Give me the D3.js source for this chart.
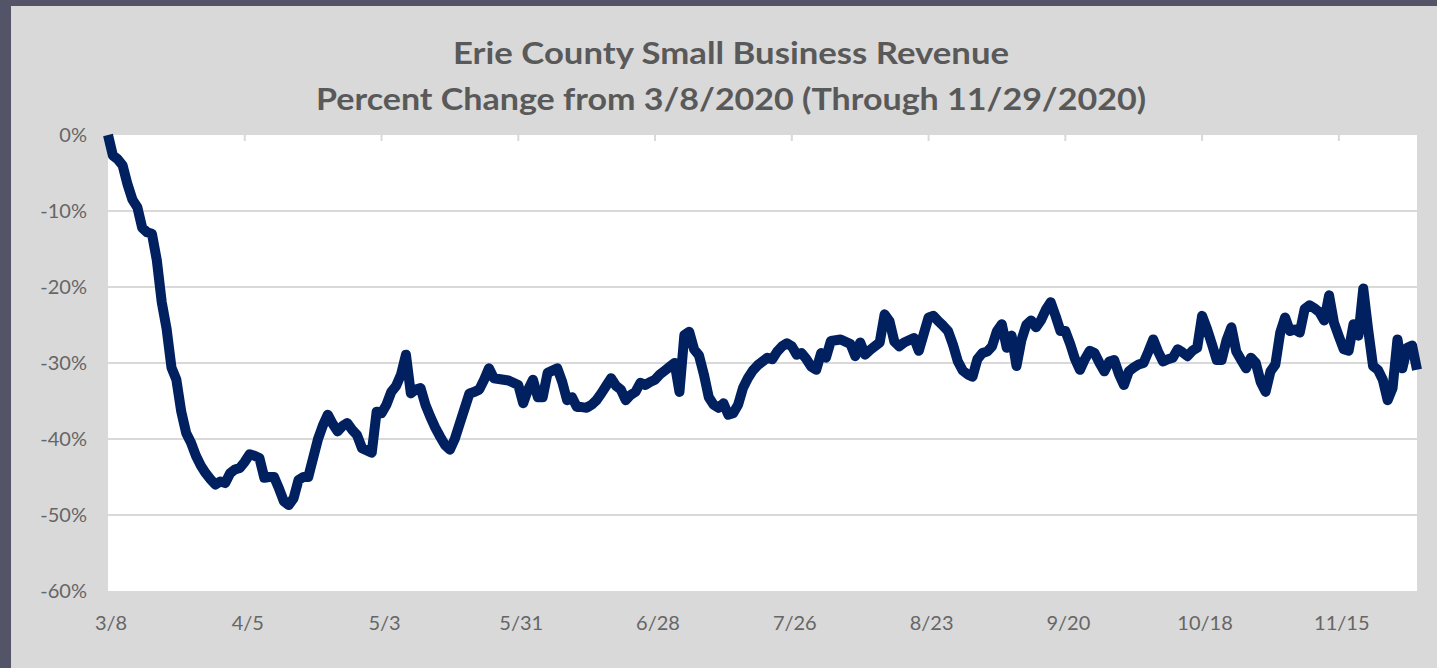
<!DOCTYPE html>
<html>
<head>
<meta charset="utf-8">
<script src="https://cdn.jsdelivr.net/npm/d3@7"></script>
<style>
  html, body { margin: 0; padding: 0; background: #545469; }
  svg { display: block; }
</style>
</head>
<body>
<div id="chart"></div>
<script>
// chart text
const titleLines = [
  "Erie County Small Business Revenue",
  "Percent Change from 3/8/2020 (Through 11/29/2020)",
];

// first day of the series, one value per day after it
const startDate = "2020-03-08";
const axisEndDate = "2020-12-01";

// y axis ticks (percent)
const yTicks = [0, -10, -20, -30, -40, -50, -60];

// percent change from 3/8/2020, daily
const revenueChange = [
  0, -2.7, -3.2, -4.0, -6.5, -8.5, -9.5, -12.2, -12.8, -13.0,
  -16.5, -22, -25.5, -30.6, -32.2, -36.4, -39.2, -40.5, -42.2, -43.5,
  -44.5, -45.3, -46, -45.6, -45.8, -44.5, -44, -43.8, -43, -42,
  -42.2, -42.5, -45.1, -45, -45, -46.5, -48.2, -48.7, -47.8, -45.4,
  -45, -45, -42.5, -40, -38.2, -36.8, -38, -39, -38.3, -37.9,
  -38.8, -39.5, -41.2, -41.5, -41.8, -36.4, -36.6, -35.5, -33.8, -33,
  -31.5, -28.9, -34, -33.5, -33.3, -35.5, -37.1, -38.5, -39.7, -40.8,
  -41.4, -40, -38, -36, -34, -33.8, -33.5, -32.2, -30.7, -32,
  -32.1, -32.2, -32.3, -32.6, -32.9, -35.3, -33.5, -32.2, -34.5, -34.5,
  -31.3, -31, -30.7, -32.5, -34.9, -34.5, -35.8, -35.8, -35.9, -35.5,
  -34.9, -34, -33, -32, -33, -33.5, -34.9, -34.2, -33.8, -32.6,
  -32.9, -32.5, -32.2, -31.5, -31, -30.5, -30, -33.8, -26.3, -25.9,
  -28.2, -29, -31.5, -34.5, -35.5, -35.9, -35.3, -36.8, -36.6, -35.5,
  -33.3, -32, -31, -30.3, -29.8, -29.3, -29.5, -28.5, -27.8, -27.4,
  -27.8, -28.9, -28.7, -29.5, -30.5, -30.9, -28.7, -29.3, -27.1, -27,
  -26.9, -27.2, -27.5, -29.1, -27.3, -28.9, -28.3, -27.8, -27.3, -23.6,
  -24.5, -27.2, -27.8, -27.3, -27, -26.7, -28.4, -26.2, -24, -23.8,
  -24.5, -25.1, -25.8, -27.6, -29.8, -31, -31.5, -31.8, -29.5, -28.7,
  -28.5, -27.8, -25.8, -24.9, -28, -26.4, -30.4, -27, -25, -24.4,
  -25.3, -24.4, -23, -22, -23.8, -25.8, -25.8, -27.5, -29.5, -30.9,
  -29.5, -28.4, -28.7, -30, -31.1, -29.8, -29.6, -31.5, -32.9, -31.1,
  -30.6, -30.2, -30, -28.5, -26.9, -28.5, -29.8, -29.5, -29.3, -28.2,
  -28.6, -29.1, -28.4, -28, -23.8, -25.5, -27.5, -29.6, -29.6, -27,
  -25.3, -28.5, -29.6, -30.7, -29.3, -30, -32.5, -33.8, -31.1, -30.2,
  -26, -24, -25.8, -25.6, -26, -22.9, -22.4, -22.8, -23.3, -24.4,
  -21.1, -24.7, -26.5, -28.2, -28.4, -24.9, -26.4, -20.2, -25.6, -30.4,
  -30.9, -32.2, -34.9, -33.3, -26.9, -30.7, -28, -27.7, -30.9,
];

const W = 1437, H = 668;
const panel = { x: 11, y: 6 };
const plot = { left: 108, top: 135, right: 1417, bottom: 591 };

const parseDate = d3.timeParse("%Y-%m-%d");
const start = parseDate(startDate);
const data = revenueChange.map((v, i) => ({ date: d3.timeDay.offset(start, i), value: v }));

const svg = d3
  .select("#chart")
  .append("svg")
  .attr("width", W)
  .attr("height", H);

// grey chart panel
svg
  .append("rect")
  .attr("x", panel.x)
  .attr("y", panel.y)
  .attr("width", W - panel.x)
  .attr("height", H - panel.y)
  .attr("fill", "#d9d9d9");

// white plot area
svg
  .append("rect")
  .attr("x", plot.left)
  .attr("y", plot.top)
  .attr("width", plot.right - plot.left)
  .attr("height", plot.bottom - plot.top)
  .attr("fill", "#ffffff");

const x = d3
  .scaleTime()
  .domain([start, parseDate(axisEndDate)])
  .range([plot.left, plot.right]);

const y = d3.scaleLinear().domain([-60, 0]).range([plot.bottom, plot.top]);

// 28-day steps from the start date
const xTicks = d3.range(0, 10).map((k) => d3.timeDay.offset(start, k * 28));

// gridlines
svg
  .append("g")
  .selectAll("line")
  .data(yTicks.filter((t) => t > -60 && t < 0))
  .join("line")
  .attr("x1", plot.left)
  .attr("x2", plot.right)
  .attr("y1", (d) => y(d))
  .attr("y2", (d) => y(d))
  .attr("stroke", "#d9d9d9")
  .attr("stroke-width", 2);

// small tick marks hanging from the top axis
svg
  .append("g")
  .selectAll("line")
  .data(xTicks.slice(1))
  .join("line")
  .attr("x1", (d) => x(d))
  .attr("x2", (d) => x(d))
  .attr("y1", plot.top)
  .attr("y2", plot.top + 6)
  .attr("stroke", "#d9d9d9")
  .attr("stroke-width", 2);

const labelFont = "Lato, 'Open Sans', sans-serif";

// y axis labels
svg
  .append("g")
  .selectAll("text")
  .data(yTicks)
  .join("text")
  .attr("x", 87)
  .attr("y", (d) => y(d))
  .attr("dy", "0.35em")
  .attr("text-anchor", "end")
  .attr("font-family", labelFont)
  .attr("font-size", 20)
  .attr("fill", "#666666")
  .text((d) => d + "%");

// x axis labels
const fmt = d3.timeFormat("%-m/%-d");
svg
  .append("g")
  .selectAll("text")
  .data(xTicks)
  .join("text")
  .attr("x", (d) => x(d) + 3)
  .attr("y", 623)
  .attr("dy", "0.35em")
  .attr("text-anchor", "middle")
  .attr("font-family", labelFont)
  .attr("font-size", 20)
  .attr("fill", "#666666")
  .text((d) => fmt(d));

// the series
const line = d3
  .line()
  .x((d) => x(d.date))
  .y((d) => y(d.value));

svg
  .append("path")
  .datum(data)
  .attr("d", line)
  .attr("fill", "none")
  .attr("stroke", "#002060")
  .attr("stroke-width", 10)
  .attr("stroke-linejoin", "round")
  .attr("stroke-linecap", "butt");

// title, stretched to the width Calibri gives in the original
const titleWidths = [556, 830];
svg
  .append("g")
  .selectAll("text")
  .data(titleLines)
  .join("text")
  .attr("x", 731)
  .attr("y", (d, i) => 64 + i * 46)
  .attr("text-anchor", "middle")
  .attr("font-family", labelFont)
  .attr("font-weight", "bold")
  .attr("font-size", 31)
  .attr("fill", "#595959")
  .attr("textLength", (d, i) => titleWidths[i])
  .attr("lengthAdjust", "spacingAndGlyphs")
  .text((d) => d);
</script>
</body>
</html>
